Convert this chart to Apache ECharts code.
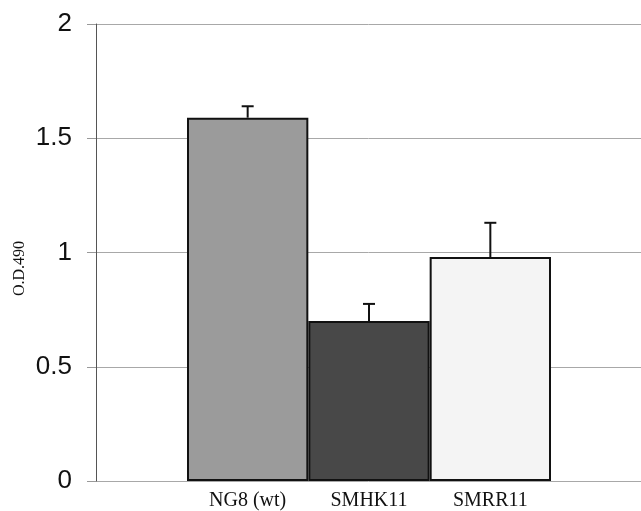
<!DOCTYPE html>
<html>
<head>
<meta charset="utf-8">
<script src="https://cdn.jsdelivr.net/npm/echarts@6/dist/echarts.min.js"></script>
<style>html,body{margin:0;padding:0;background:#fff}#c{width:641px;height:511px}</style>
</head>
<body>
<div id="c"></div>
<script>
const categories = ['NG8 (wt)', 'SMHK11', 'SMRR11'];
const values = [1.59, 0.70, 0.98];
const errorTops = [1.64, 0.775, 1.13];
const barColors = ['#9b9b9b', '#484848', '#f4f4f4'];
const yTicks = [0, 0.5, 1, 1.5, 2];
const yTitle = 'O.D.490';

const chart = echarts.init(document.getElementById('c'), null, {renderer: 'canvas'});
const yMin = yTicks[0], yMax = yTicks[yTicks.length - 1];
const option = {
  animation: false,
  backgroundColor: '#fff',
  graphic: [{
    type: 'text', left: 12, top: 241, rotation: Math.PI / 2,
    style: {text: yTitle, font: '16px "Liberation Serif"', fill: '#111'}
  }],
  grid: [
    {left: 96, right: 0, top: 24, bottom: 30},
    {left: 187, right: 90, top: 24, bottom: 30}
  ],
  xAxis: [
    {gridIndex: 0, type: 'category', data: [''], axisLine: {show: false}, axisTick: {show: false}, axisLabel: {show: false}},
    {gridIndex: 1, type: 'category', data: categories,
     axisLine: {show: false}, axisTick: {show: false},
     axisLabel: {margin: 10, color: '#111', fontFamily: 'Liberation Serif', fontSize: 20}}
  ],
  yAxis: [
    {gridIndex: 0, type: 'value', min: yMin, max: yMax, interval: 0.5,
     axisLine: {show: true, lineStyle: {color: '#555', width: 1}},
     axisTick: {show: true, length: 9, inside: false, lineStyle: {color: '#999'}},
     axisLabel: {margin: 24, color: '#111', fontFamily: 'Liberation Sans', fontSize: 26},
     splitLine: {show: true, lineStyle: {color: '#a8a8a8', width: 1}}},
    {gridIndex: 1, type: 'value', min: yMin, max: yMax, interval: 0.5, show: false, splitLine: {show: false}}
  ],
  series: [
    {type: 'bar', xAxisIndex: 1, yAxisIndex: 1, barCategoryGap: 0,
     data: values.map((v, i) => ({value: v, itemStyle: {color: barColors[i]}})),
     itemStyle: {borderColor: '#111', borderWidth: 2}, z: 3},
    {type: 'custom', xAxisIndex: 1, yAxisIndex: 1, z: 4,
     data: values.map((v, i) => [i, v, errorTops[i]]),
     renderItem: function (params, api) {
       const p0 = api.coord([api.value(0), api.value(1)]);
       const p1 = api.coord([api.value(0), api.value(2)]);
       const hw = 6;
       return {type: 'group', children: [
         {type: 'line', shape: {x1: p0[0], y1: p0[1], x2: p1[0], y2: p1[1]}, style: {stroke: '#111', lineWidth: 2}},
         {type: 'line', shape: {x1: p1[0] - hw, y1: p1[1], x2: p1[0] + hw, y2: p1[1]}, style: {stroke: '#111', lineWidth: 2}}
       ]};
     }}
  ]
};
chart.setOption(option);
</script>
</body>
</html>
